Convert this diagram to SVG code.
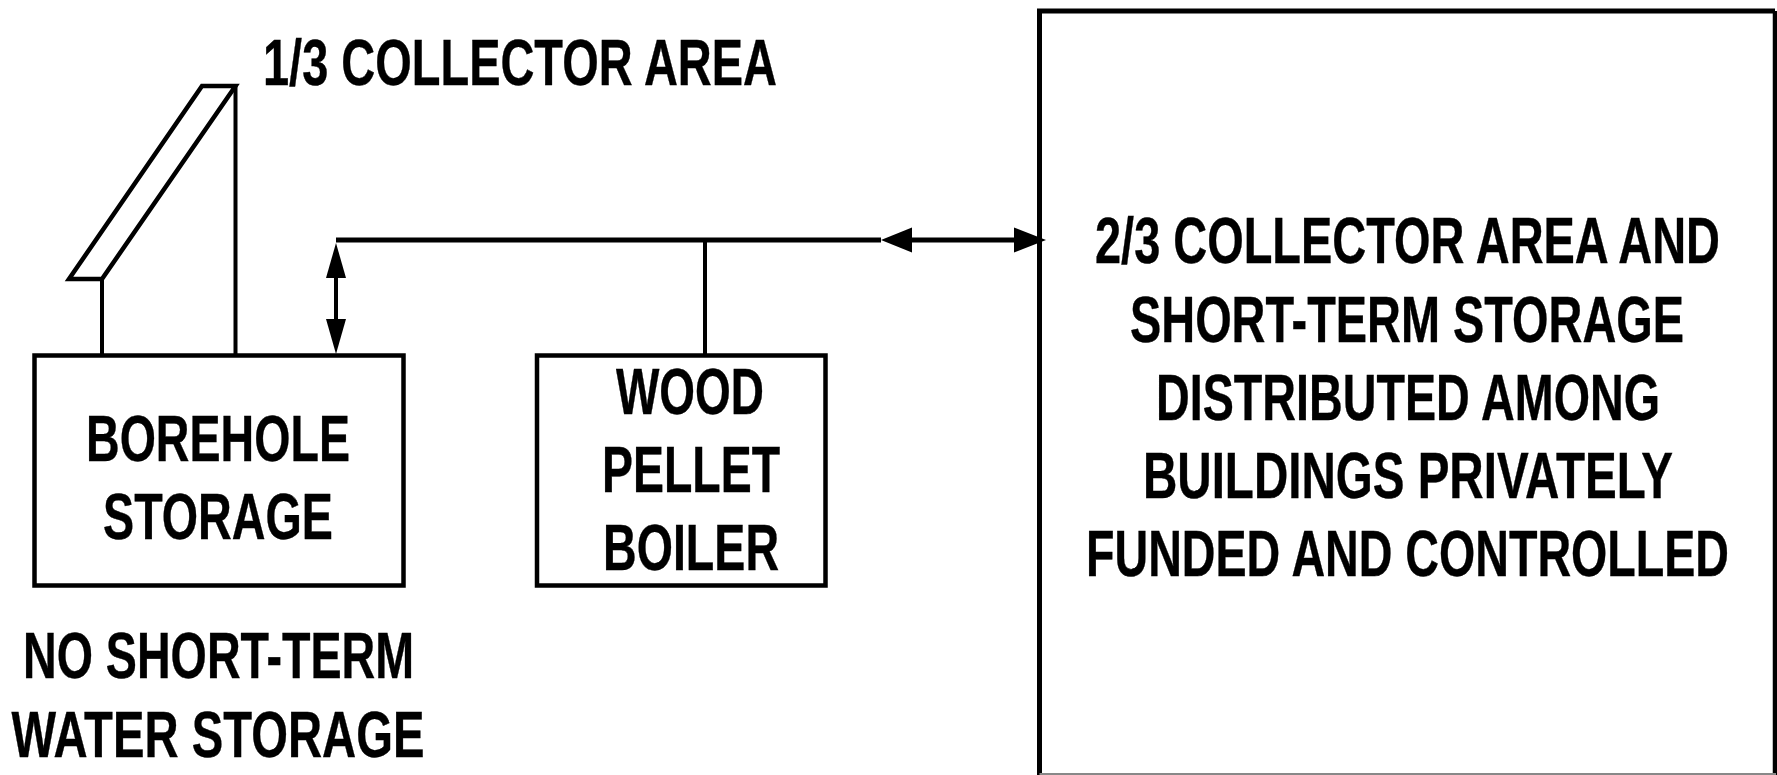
<svg xmlns="http://www.w3.org/2000/svg" width="1777" height="775" viewBox="0 0 1777 775">
<style>
text{font-family:"Liberation Sans",Arial,sans-serif;font-weight:700;font-size:65px;fill:#000;stroke:#000;stroke-width:.4}
.box{fill:none;stroke:#000;stroke-width:4.500}
.frame{fill:none;stroke:#000;stroke-width:5}
.edge{fill:none;stroke:#888;stroke-width:2}
.line{fill:none;stroke:#000;stroke-width:4}
.bus{fill:none;stroke:#000;stroke-width:5}
.head{fill:#000;stroke:none}
</style>
<rect width="1777" height="775" fill="#fff"/>
<g id="collector"><path class="box" d="M202 86H235.500L102 279H69Z"/></g>
<g id="borehole-storage"><rect class="box" x="34.500" y="355.500" width="369" height="230"/>
<text transform="translate(86 460.500) scale(.715 1)" textLength="369.200" lengthAdjust="spacingAndGlyphs">BOREHOLE</text>
<text transform="translate(103 538.500) scale(.715 1)" textLength="321.700" lengthAdjust="spacingAndGlyphs">STORAGE</text></g>
<g id="wood-pellet-boiler"><rect class="box" x="537" y="355.500" width="288.500" height="230"/>
<text transform="translate(616 414) scale(.715 1)" textLength="207" lengthAdjust="spacingAndGlyphs">WOOD</text>
<text transform="translate(602 491.500) scale(.715 1)" textLength="249" lengthAdjust="spacingAndGlyphs">PELLET</text>
<text transform="translate(603 569.500) scale(.715 1)" textLength="246.200" lengthAdjust="spacingAndGlyphs">BOILER</text></g>
<g id="distributed"><path class="frame" d="M1039.500 775V11H1775"/><path class="box" d="M1775 11V775"/><path class="edge" d="M1039.500 774H1776"/>
<text transform="translate(1095 263) scale(.715 1)" textLength="874.100" lengthAdjust="spacingAndGlyphs">2/3 COLLECTOR AREA AND</text>
<text transform="translate(1130 341.500) scale(.715 1)" textLength="774.800" lengthAdjust="spacingAndGlyphs">SHORT-TERM STORAGE</text>
<text transform="translate(1156 419.500) scale(.715 1)" textLength="704.900" lengthAdjust="spacingAndGlyphs">DISTRIBUTED AMONG</text>
<text transform="translate(1143 497.500) scale(.715 1)" textLength="741.300" lengthAdjust="spacingAndGlyphs">BUILDINGS PRIVATELY</text>
<text transform="translate(1086 575.500) scale(.715 1)" textLength="899.300" lengthAdjust="spacingAndGlyphs">FUNDED AND CONTROLLED</text></g>
<g id="labels">
<text transform="translate(263 84.500) scale(.715 1)" textLength="718.900" lengthAdjust="spacingAndGlyphs">1/3 COLLECTOR AREA</text>
<text transform="translate(23 678) scale(.715 1)" textLength="546.900" lengthAdjust="spacingAndGlyphs">NO SHORT-TERM</text>
<text transform="translate(11.500 757) scale(.715 1)" textLength="577.600" lengthAdjust="spacingAndGlyphs">WATER STORAGE</text></g>
<g id="connectors">
<path class="line" d="M102 279V355M235.500 86V355M705 240V355"/>
<path class="bus" d="M336 240H881"/>
<path class="line" d="M336 270V325"/>
<path class="bus" d="M905 240H1020"/>
<path class="head" d="M336 243L346 278H326Z"/>
<path class="head" d="M336 354L346 319H326Z"/>
<path class="head" d="M881 240L912 227.500V252.500Z"/>
<path class="head" d="M1046 240L1014 227.500V252.500Z"/>
</g>
</svg>
